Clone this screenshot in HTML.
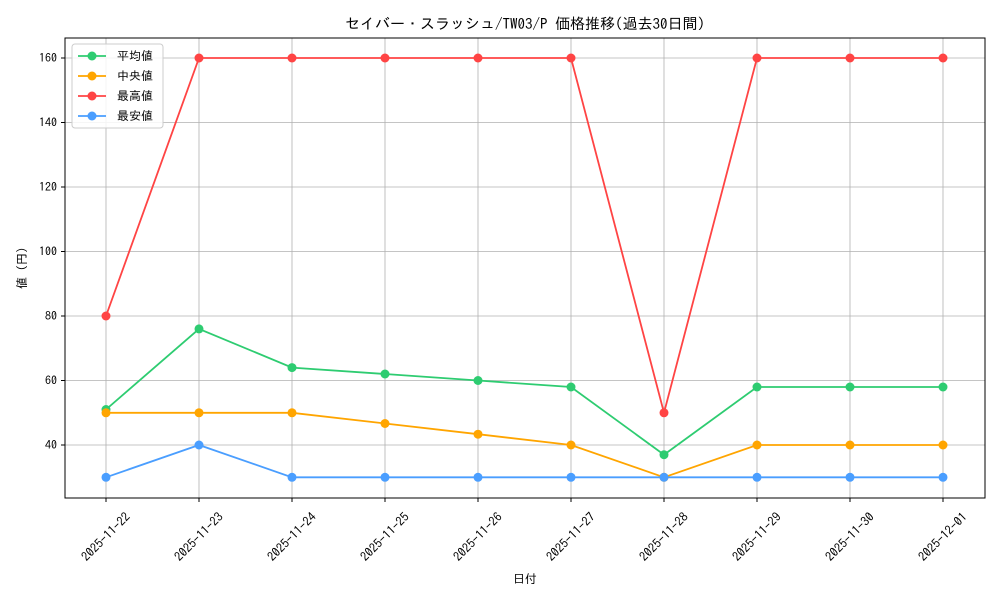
<!DOCTYPE html>
<html><head><meta charset="utf-8"><style>body{margin:0;background:#fff}svg{display:block}text{font-family:"IPAGothic","Noto Sans CJK JP",monospace;fill:#000}</style></head><body>
<svg width="1000" height="600" xmlns="http://www.w3.org/2000/svg">
<rect width="1000" height="600" fill="#fff"/>
<g stroke="#b0b0b0" stroke-width="0.8">
<line x1="106" y1="38" x2="106" y2="498"/><line x1="199" y1="38" x2="199" y2="498"/><line x1="292" y1="38" x2="292" y2="498"/><line x1="385" y1="38" x2="385" y2="498"/><line x1="478" y1="38" x2="478" y2="498"/><line x1="571" y1="38" x2="571" y2="498"/><line x1="664" y1="38" x2="664" y2="498"/><line x1="757" y1="38" x2="757" y2="498"/><line x1="850" y1="38" x2="850" y2="498"/><line x1="943" y1="38" x2="943" y2="498"/>
<line x1="65" y1="445" x2="985" y2="445"/><line x1="65" y1="380.5" x2="985" y2="380.5"/><line x1="65" y1="316" x2="985" y2="316"/><line x1="65" y1="251.5" x2="985" y2="251.5"/><line x1="65" y1="187" x2="985" y2="187"/><line x1="65" y1="122.5" x2="985" y2="122.5"/><line x1="65" y1="58" x2="985" y2="58"/>
</g>
<rect x="65" y="38" width="920" height="460" fill="none" stroke="#000" stroke-width="1"/>
<g stroke="#000"><line x1="61" y1="445" x2="65" y2="445"/><line x1="61" y1="380.5" x2="65" y2="380.5"/><line x1="61" y1="316" x2="65" y2="316"/><line x1="61" y1="251.5" x2="65" y2="251.5"/><line x1="61" y1="187" x2="65" y2="187"/><line x1="61" y1="122.5" x2="65" y2="122.5"/><line x1="61" y1="58" x2="65" y2="58"/>
<line x1="106" y1="498" x2="106" y2="502"/><line x1="199" y1="498" x2="199" y2="502"/><line x1="292" y1="498" x2="292" y2="502"/><line x1="385" y1="498" x2="385" y2="502"/><line x1="478" y1="498" x2="478" y2="502"/><line x1="571" y1="498" x2="571" y2="502"/><line x1="664" y1="498" x2="664" y2="502"/><line x1="757" y1="498" x2="757" y2="502"/><line x1="850" y1="498" x2="850" y2="502"/><line x1="943" y1="498" x2="943" y2="502"/></g>
<g font-size="12" text-anchor="end"><text x="57" y="449">40</text><text x="57" y="384.5">60</text><text x="57" y="320">80</text><text x="57" y="255.5">100</text><text x="57" y="191">120</text><text x="57" y="126.5">140</text><text x="57" y="62">160</text></g>
<g font-size="12.5" text-anchor="middle">
<text transform="translate(106,537) rotate(-45)" dy="4">2025-11-22</text><text transform="translate(199,537) rotate(-45)" dy="4">2025-11-23</text><text transform="translate(292,537) rotate(-45)" dy="4">2025-11-24</text><text transform="translate(385,537) rotate(-45)" dy="4">2025-11-25</text><text transform="translate(478,537) rotate(-45)" dy="4">2025-11-26</text><text transform="translate(571,537) rotate(-45)" dy="4">2025-11-27</text><text transform="translate(664,537) rotate(-45)" dy="4">2025-11-28</text><text transform="translate(757,537) rotate(-45)" dy="4">2025-11-29</text><text transform="translate(850,537) rotate(-45)" dy="4">2025-11-30</text><text transform="translate(943,537) rotate(-45)" dy="4">2025-12-01</text>
</g>
<text x="525" y="583" font-size="12" text-anchor="middle">日付</text>
<text transform="translate(26,268) rotate(-90)" font-size="12" text-anchor="middle">値 (円)</text>
<text x="525" y="29" font-size="15" text-anchor="middle">セイバー・スラッシュ/TW03/P 価格推移(過去30日間)</text>
<g fill="none" stroke-width="1.8">
<polyline stroke="#2ecc71" points="106,409.5 199,328.9 292,367.6 385,374 478,380.5 571,387 664,454.7 757,387 850,387 943,387"/>
<polyline stroke="#ffa500" points="106,412.8 199,412.8 292,412.8 385,423.5 478,434.2 571,445 664,477.3 757,445 850,445 943,445"/>
<polyline stroke="#ff4444" points="106,316 199,58 292,58 385,58 478,58 571,58 664,412.8 757,58 850,58 943,58"/>
<polyline stroke="#4a9eff" points="106,477.3 199,445 292,477.3 385,477.3 478,477.3 571,477.3 664,477.3 757,477.3 850,477.3 943,477.3"/>
</g>
<g fill="#2ecc71"><circle cx="106" cy="409.5" r="4.5"/><circle cx="199" cy="328.9" r="4.5"/><circle cx="292" cy="367.6" r="4.5"/><circle cx="385" cy="374" r="4.5"/><circle cx="478" cy="380.5" r="4.5"/><circle cx="571" cy="387" r="4.5"/><circle cx="664" cy="454.7" r="4.5"/><circle cx="757" cy="387" r="4.5"/><circle cx="850" cy="387" r="4.5"/><circle cx="943" cy="387" r="4.5"/></g>
<g fill="#ffa500"><circle cx="106" cy="412.8" r="4.5"/><circle cx="199" cy="412.8" r="4.5"/><circle cx="292" cy="412.8" r="4.5"/><circle cx="385" cy="423.5" r="4.5"/><circle cx="478" cy="434.2" r="4.5"/><circle cx="571" cy="445" r="4.5"/><circle cx="664" cy="477.3" r="4.5"/><circle cx="757" cy="445" r="4.5"/><circle cx="850" cy="445" r="4.5"/><circle cx="943" cy="445" r="4.5"/></g>
<g fill="#ff4444"><circle cx="106" cy="316" r="4.5"/><circle cx="199" cy="58" r="4.5"/><circle cx="292" cy="58" r="4.5"/><circle cx="385" cy="58" r="4.5"/><circle cx="478" cy="58" r="4.5"/><circle cx="571" cy="58" r="4.5"/><circle cx="664" cy="412.8" r="4.5"/><circle cx="757" cy="58" r="4.5"/><circle cx="850" cy="58" r="4.5"/><circle cx="943" cy="58" r="4.5"/></g>
<g fill="#4a9eff"><circle cx="106" cy="477.3" r="4.5"/><circle cx="199" cy="445" r="4.5"/><circle cx="292" cy="477.3" r="4.5"/><circle cx="385" cy="477.3" r="4.5"/><circle cx="478" cy="477.3" r="4.5"/><circle cx="571" cy="477.3" r="4.5"/><circle cx="664" cy="477.3" r="4.5"/><circle cx="757" cy="477.3" r="4.5"/><circle cx="850" cy="477.3" r="4.5"/><circle cx="943" cy="477.3" r="4.5"/></g>
<rect x="72" y="44" width="91" height="84" rx="3" fill="#fff" fill-opacity="0.85" stroke="#ccc"/>
<g stroke-width="1.8">
<line x1="78" y1="56" x2="106" y2="56" stroke="#2ecc71"/><circle cx="92" cy="56" r="4.5" fill="#2ecc71"/>
<line x1="78" y1="76" x2="106" y2="76" stroke="#ffa500"/><circle cx="92" cy="76" r="4.5" fill="#ffa500"/>
<line x1="78" y1="96" x2="106" y2="96" stroke="#ff4444"/><circle cx="92" cy="96" r="4.5" fill="#ff4444"/>
<line x1="78" y1="116" x2="106" y2="116" stroke="#4a9eff"/><circle cx="92" cy="116" r="4.5" fill="#4a9eff"/>
</g>
<g font-size="12"><text x="117" y="60">平均値</text><text x="117" y="80">中央値</text><text x="117" y="100">最高値</text><text x="117" y="120">最安値</text></g>
</svg>
</body></html>
